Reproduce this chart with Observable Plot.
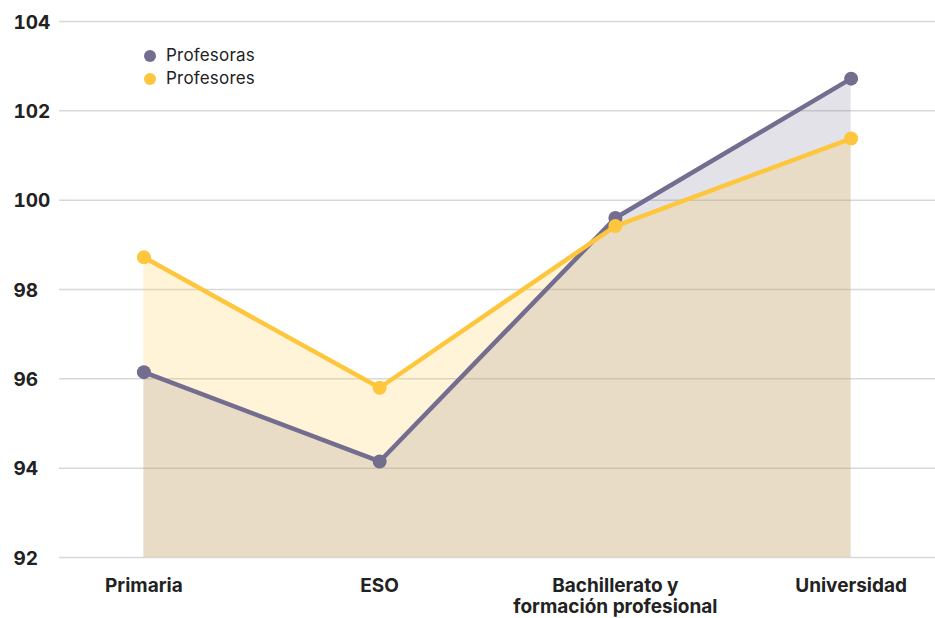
<!DOCTYPE html>
<html>
<head>
<meta charset="utf-8">
<script src="https://cdn.jsdelivr.net/npm/d3@7"></script>
<script src="https://cdn.jsdelivr.net/npm/@observablehq/plot@0.6"></script>
<style>
  html, body { margin: 0; padding: 0; background: #fff; }
  #wrap { position: relative; width: 935px; height: 618px; font-family: Inter, "Open Sans", sans-serif; }
  .legend { position: absolute; left: 144px; top: 44px; font-size: 17px; color: #222; line-height: 23px; letter-spacing: 0.2px; }
  .legend div { display: flex; align-items: center; }
  .legend span.sw { display: inline-block; width: 12px; height: 12px; border-radius: 50%; margin-right: 10px; }
</style>
</head>
<body>
<div id="wrap"></div>
<script>
const categories = ["Primaria", "ESO", "Bachillerato y\nformación profesional", "Universidad"];
const profesoras = [96.15, 94.15, 99.6, 102.72];
const profesores = [98.72, 95.8, 99.42, 101.38];
const yTicks = [92, 94, 96, 98, 100, 102, 104];
const seriesNames = ["Profesoras", "Profesores"];
const colors = ["#736d8f", "#fec63d"];

const dataA = categories.map((c, i) => ({cat: c, v: profesoras[i]}));
const dataB = categories.map((c, i) => ({cat: c, v: profesores[i]}));

const chart = Plot.plot({
  width: 935,
  height: 618,
  marginLeft: 59,
  marginRight: 0,
  marginTop: 21,
  marginBottom: 61,
  style: {fontFamily: "Inter, 'Open Sans', sans-serif", color: "#222", background: "#fff"},
  x: {type: "point", domain: categories, padding: 0.358, round: false, label: null},
  y: {domain: [92, 104], label: null},
  marks: [
    Plot.ruleY(yTicks, {stroke: "#d8d8d8", strokeWidth: 1.5}),
    Plot.areaY(dataA, {x: "cat", y1: 92, y2: "v", fill: colors[0], fillOpacity: 0.2}),
    Plot.areaY(dataB, {x: "cat", y1: 92, y2: "v", fill: colors[1], fillOpacity: 0.2}),
    Plot.lineY(dataA, {x: "cat", y: "v", stroke: colors[0], strokeWidth: 4.5}),
    Plot.dot(dataA, {x: "cat", y: "v", fill: colors[0], r: 7}),
    Plot.lineY(dataB, {x: "cat", y: "v", stroke: colors[1], strokeWidth: 4.5}),
    Plot.dot(dataB, {x: "cat", y: "v", fill: colors[1], r: 7}),
    Plot.axisY({ticks: yTicks, tickSize: 0, tickFormat: d => String(d), textAnchor: "start", dx: -37, dy: 1, fontSize: 19, fontWeight: 700, fill: "#222", letterSpacing: "0.5px", label: null}),
    Plot.axisX({tickSize: 0, tickPadding: 19, fontSize: 19, fontWeight: 700, fill: "#222", lineHeight: 1.12, letterSpacing: "0.6px", label: null})
  ]
});

const wrap = document.getElementById("wrap");
wrap.appendChild(chart);
const leg = document.createElement("div");
leg.className = "legend";
seriesNames.forEach((n, i) => {
  const row = document.createElement("div");
  const sw = document.createElement("span");
  sw.className = "sw";
  sw.style.background = colors[i];
  row.appendChild(sw);
  row.appendChild(document.createTextNode(n));
  leg.appendChild(row);
});
wrap.appendChild(leg);
</script>
</body>
</html>
